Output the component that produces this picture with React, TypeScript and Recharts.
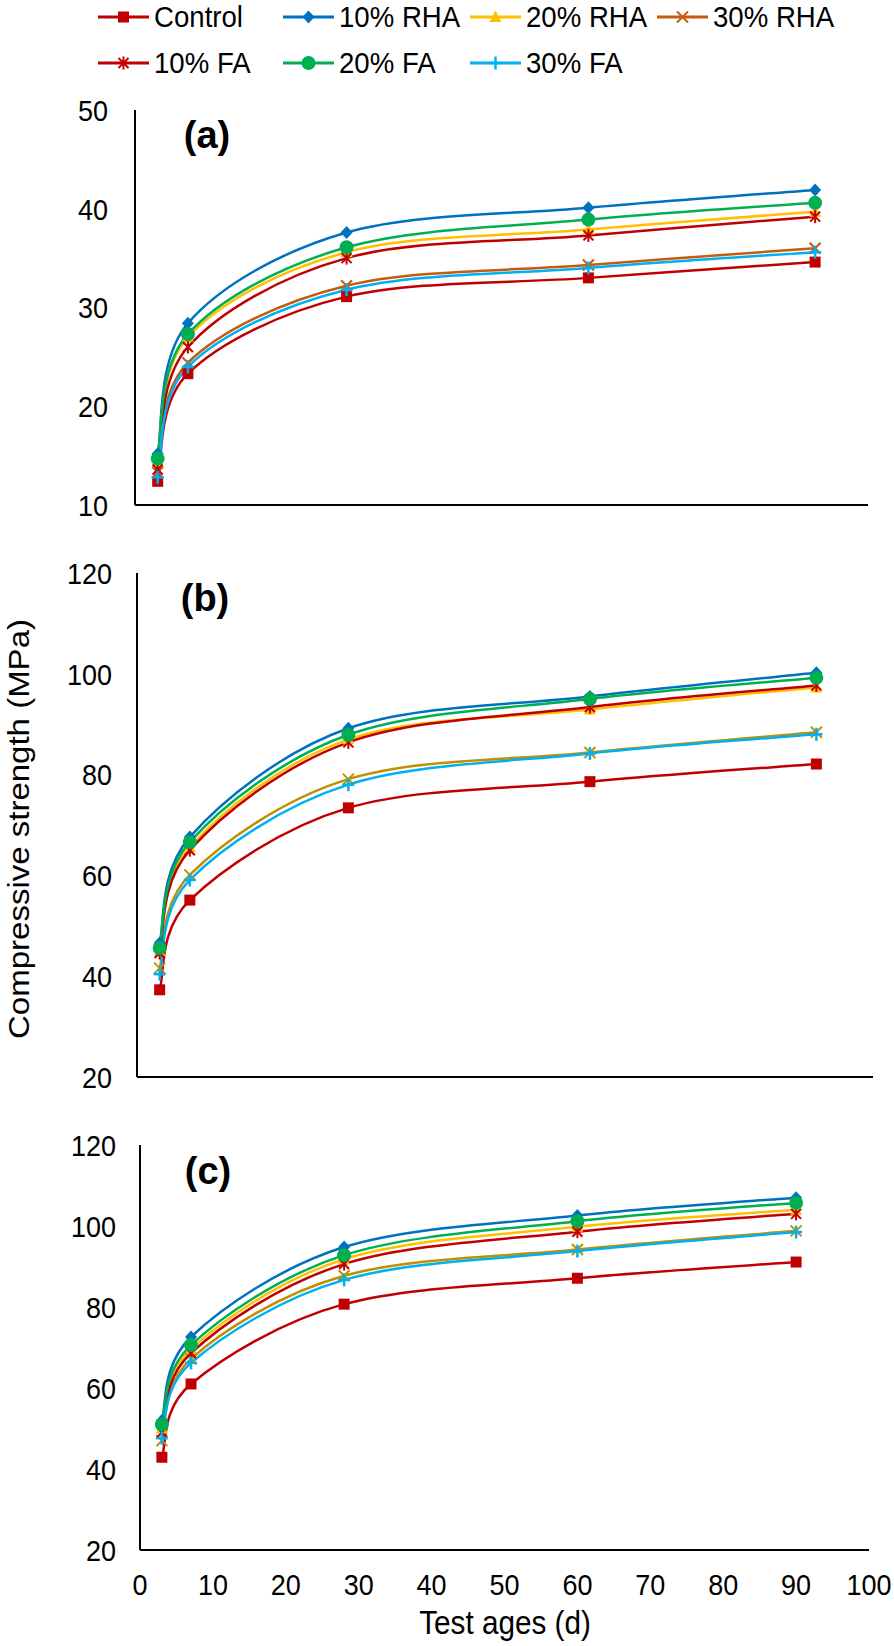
import React from "react";
import { LineChart, Line, XAxis, YAxis } from "recharts";

const FONT = '"Liberation Sans", Arial, Helvetica, sans-serif';

// test ages (days)
const days = [3, 7, 28, 60, 90];

const seriesNames = ["Control", "10% RHA", "20% RHA", "30% RHA", "10% FA", "20% FA", "30% FA"];
const seriesKeys = ["control", "rha10", "rha20", "rha30", "fa10", "fa20", "fa30"];
const seriesShapes = ["square", "diamond", "triangle", "cross", "star", "circle", "plus"];
const seriesColors = ["#C00000", "#0070C0", "#FFC000", "#C55A11", "#C00000", "#00B050", "#00B0F0"];
const rha30ColorBC = "#BF9000";

// panel (a)
const aControl = [12.4, 23.3, 31.1, 33.0, 34.6];
const aRha10 = [15.2, 28.4, 37.6, 40.1, 41.9];
const aRha20 = [14.4, 27.0, 35.6, 37.9, 39.7];
const aRha30 = [13.3, 24.4, 32.2, 34.3, 36.0];
const aFa10 = [13.6, 26.0, 35.0, 37.3, 39.2];
const aFa20 = [14.7, 27.3, 36.1, 38.9, 40.6];
const aFa30 = [12.8, 24.0, 31.8, 34.0, 35.6];

// panel (b)
const bControl = [37.3, 55.1, 73.4, 78.6, 82.1];
const bRha10 = [46.6, 67.6, 89.2, 95.5, 100.2];
const bRha20 = [45.0, 65.6, 87.0, 92.9, 97.3];
const bRha30 = [41.6, 60.1, 79.1, 84.4, 88.4];
const bFa10 = [44.6, 65.0, 86.4, 93.4, 97.7];
const bFa20 = [45.6, 66.6, 87.9, 95.0, 99.2];
const bFa30 = [40.4, 59.1, 78.0, 84.2, 88.0];

// panel (c)
const cControl = [42.9, 61.0, 80.7, 87.1, 91.1];
const cRha10 = [52.0, 72.6, 94.8, 102.6, 107.0];
const cRha20 = [50.0, 69.6, 91.8, 99.8, 104.0];
const cRha30 = [47.0, 67.2, 87.7, 94.2, 98.8];
const cFa10 = [49.0, 68.6, 90.6, 98.6, 103.0];
const cFa20 = [51.0, 70.6, 92.8, 101.2, 105.7];
const cFa30 = [47.6, 66.2, 86.7, 93.8, 98.5];

const xTicks = [0, 10, 20, 30, 40, 50, 60, 70, 80, 90, 100];
const yTicksA = [10, 20, 30, 40, 50];
const yTicksBC = [20, 40, 60, 80, 100, 120];

function buildRows(cols: number[][]) {
  return days.map((d, i) => {
    const row: any = { day: d };
    seriesKeys.forEach((k, j) => {
      row[k] = cols[j][i];
    });
    return row;
  });
}

const rowsA = buildRows([aControl, aRha10, aRha20, aRha30, aFa10, aFa20, aFa30]);
const rowsB = buildRows([bControl, bRha10, bRha20, bRha30, bFa10, bFa20, bFa30]);
const rowsC = buildRows([cControl, cRha10, cRha20, cRha30, cFa10, cFa20, cFa30]);

// Excel-style smoothed line (Catmull-Rom as cubic bezier), used as a d3 curve factory
function excelCurve(context: any) {
  let pts: number[][] = [];
  return {
    areaStart() {},
    areaEnd() {},
    lineStart() {
      pts = [];
    },
    lineEnd() {
      const n = pts.length;
      if (n === 0) return;
      context.moveTo(pts[0][0], pts[0][1]);
      for (let i = 0; i < n - 1; i++) {
        const p0 = pts[Math.max(i - 1, 0)];
        const p1 = pts[i];
        const p2 = pts[i + 1];
        const p3 = pts[Math.min(i + 2, n - 1)];
        const c1x = p1[0] + (p2[0] - p0[0]) / 6;
        const c1y = p1[1] + (p2[1] - p0[1]) / 6;
        const c2x = p2[0] - (p3[0] - p1[0]) / 6;
        const c2y = p2[1] - (p3[1] - p1[1]) / 6;
        context.bezierCurveTo(c1x, c1y, c2x, c2y, p2[0], p2[1]);
      }
    },
    point(x: number, y: number) {
      pts.push([+x, +y]);
    },
  };
}

function Marker({ shape, color, cx, cy }: any) {
  if (cx == null || cy == null) return null;
  switch (shape) {
    case "square":
      return <rect x={cx - 5.5} y={cy - 5.5} width={11} height={11} fill={color} />;
    case "diamond":
      return <polygon points={`${cx},${cy - 6.5} ${cx + 6},${cy} ${cx},${cy + 6.5} ${cx - 6},${cy}`} fill={color} />;
    case "triangle":
      return <polygon points={`${cx},${cy - 6.5} ${cx + 6},${cy + 5} ${cx - 6},${cy + 5}`} fill={color} />;
    case "cross":
      return (
        <g stroke={color} strokeWidth={2}>
          <line x1={cx - 5.5} y1={cy - 5.5} x2={cx + 5.5} y2={cy + 5.5} />
          <line x1={cx - 5.5} y1={cy + 5.5} x2={cx + 5.5} y2={cy - 5.5} />
        </g>
      );
    case "star":
      return (
        <g stroke={color} strokeWidth={2}>
          <line x1={cx - 5} y1={cy - 5} x2={cx + 5} y2={cy + 5} />
          <line x1={cx - 5} y1={cy + 5} x2={cx + 5} y2={cy - 5} />
          <line x1={cx} y1={cy - 6.5} x2={cx} y2={cy + 6.5} />
        </g>
      );
    case "circle":
      return <circle cx={cx} cy={cy} r={7} fill={color} />;
    case "plus":
      return (
        <g stroke={color} strokeWidth={2.5}>
          <line x1={cx - 6} y1={cy} x2={cx + 6} y2={cy} />
          <line x1={cx} y1={cy - 6.5} x2={cx} y2={cy + 6.5} />
        </g>
      );
    default:
      return null;
  }
}

const makeDot = (shape: string, color: string) => (props: any) => (
  <Marker key={`${shape}-${props.index}`} shape={shape} color={color} cx={props.cx} cy={props.cy} />
);

const makeYTick = (gap: number) => (props: any) => {
  const { x, y, payload } = props;
  return (
    <g transform={`translate(${x - gap},${y}) scale(0.9,1)`}>
      <text x={0} y={0} dy="0.36em" textAnchor="end" fontSize={30} fontFamily={FONT} fill="#000">
        {payload.value}
      </text>
    </g>
  );
};

const xTick = (props: any) => {
  const { x, y, payload } = props;
  return (
    <g transform={`translate(${x},${y + 45}) scale(0.9,1)`}>
      <text x={0} y={0} textAnchor="middle" fontSize={30} fontFamily={FONT} fill="#000">
        {payload.value}
      </text>
    </g>
  );
};

interface PanelProps {
  top: number;
  height: number;
  data: any[];
  margin: { top: number; right: number; bottom: number; left: number };
  xDomain: number[];
  yDomain: number[];
  yTicks: number[];
  tickGap: number;
  showXTicks: boolean;
  rha30Color: string;
}

function Panel(p: PanelProps) {
  return (
    <div style={{ position: "absolute", left: 0, top: p.top }}>
      <LineChart width={894} height={p.height} data={p.data} margin={p.margin}>
        <XAxis
          dataKey="day"
          type="number"
          domain={p.xDomain}
          ticks={p.showXTicks ? xTicks : []}
          tick={p.showXTicks ? xTick : false}
          tickLine={false}
          tickSize={0}
          tickMargin={0}
          height={p.showXTicks ? 50 : 1}
          axisLine={{ stroke: "#000", strokeWidth: 2 }}
          allowDataOverflow
        />
        <YAxis
          type="number"
          domain={p.yDomain}
          ticks={p.yTicks}
          tick={makeYTick(p.tickGap)}
          tickLine={false}
          tickSize={0}
          tickMargin={0}
          width={60}
          axisLine={{ stroke: "#000", strokeWidth: 2 }}
          allowDataOverflow
        />
        {seriesKeys.map((k, i) => {
          const color = i === 3 ? p.rha30Color : seriesColors[i];
          return (
            <Line
              key={k}
              dataKey={k}
              type={excelCurve as any}
              stroke={color}
              strokeWidth={2.5}
              dot={makeDot(seriesShapes[i], color)}
              activeDot={false}
              isAnimationActive={false}
            />
          );
        })}
      </LineChart>
    </div>
  );
}

const legendCols = [98, 283, 470, 657];
const legendRows = [17, 63];

function LegendItem({ idx }: { idx: number }) {
  const col = idx < 4 ? idx : idx - 4;
  const row = idx < 4 ? 0 : 1;
  const color = seriesColors[idx];
  return (
    <div
      style={{
        position: "absolute",
        left: legendCols[col],
        top: legendRows[row] - 16,
        height: 32,
        display: "flex",
        alignItems: "center",
        whiteSpace: "nowrap",
      }}
    >
      <svg width={51} height={32}>
        <line x1={0} y1={16} x2={51} y2={16} stroke={color} strokeWidth={3} />
        <Marker shape={seriesShapes[idx]} color={color} cx={25.5} cy={16} />
      </svg>
      <span
        style={{
          marginLeft: 5,
          fontSize: 30,
          fontFamily: FONT,
          lineHeight: "32px",
          display: "inline-block",
          transform: "scaleX(0.92)",
          transformOrigin: "left center",
        }}
      >
        {seriesNames[idx]}
      </span>
    </div>
  );
}

const panelLabel = (text: string, x: number, y: number) => (
  <div
    style={{
      position: "absolute",
      left: x,
      top: y,
      transform: "translate(-50%,-50%)",
      fontFamily: FONT,
      fontWeight: "bold",
      fontSize: 38,
      lineHeight: 1,
      whiteSpace: "nowrap",
    }}
  >
    {text}
  </div>
);

export default function App() {
  return (
    <div style={{ position: "absolute", left: 0, top: 0, width: 894, height: 1646, background: "#fff", overflow: "hidden" }}>
      <Panel
        top={0}
        height={540}
        data={rowsA}
        margin={{ top: 110, right: 26, bottom: 34, left: 75 }}
        xDomain={[0, 97]}
        yDomain={[10, 50]}
        yTicks={yTicksA}
        tickGap={27}
        showXTicks={false}
        rha30Color={seriesColors[3]}
      />
      <Panel
        top={540}
        height={560}
        data={rowsB}
        margin={{ top: 33, right: 21, bottom: 22, left: 77 }}
        xDomain={[0, 97.5]}
        yDomain={[20, 120]}
        yTicks={yTicksBC}
        tickGap={25}
        showXTicks={false}
        rha30Color={rha30ColorBC}
      />
      <Panel
        top={1100}
        height={546}
        data={rowsC}
        margin={{ top: 45, right: 25, bottom: 46, left: 80 }}
        xDomain={[0, 100]}
        yDomain={[20, 120]}
        yTicks={yTicksBC}
        tickGap={24}
        showXTicks={true}
        rha30Color={rha30ColorBC}
      />
      {seriesNames.map((_, i) => (
        <LegendItem key={i} idx={i} />
      ))}
      {panelLabel("(a)", 207, 135)}
      {panelLabel("(b)", 205, 598)}
      {panelLabel("(c)", 208, 1171)}
      <div
        style={{
          position: "absolute",
          left: 19,
          top: 829,
          transform: "translate(-50%,-50%) rotate(-90deg) scale(1,0.9)",
          fontFamily: FONT,
          fontSize: 33,
          lineHeight: 1,
          whiteSpace: "nowrap",
        }}
      >
        Compressive strength (MPa)
      </div>
      <div
        style={{
          position: "absolute",
          left: 505,
          top: 1622,
          transform: "translate(-50%,-50%) scaleX(0.9)",
          fontFamily: FONT,
          fontSize: 33,
          lineHeight: 1,
          whiteSpace: "nowrap",
        }}
      >
        Test ages (d)
      </div>
    </div>
  );
}
